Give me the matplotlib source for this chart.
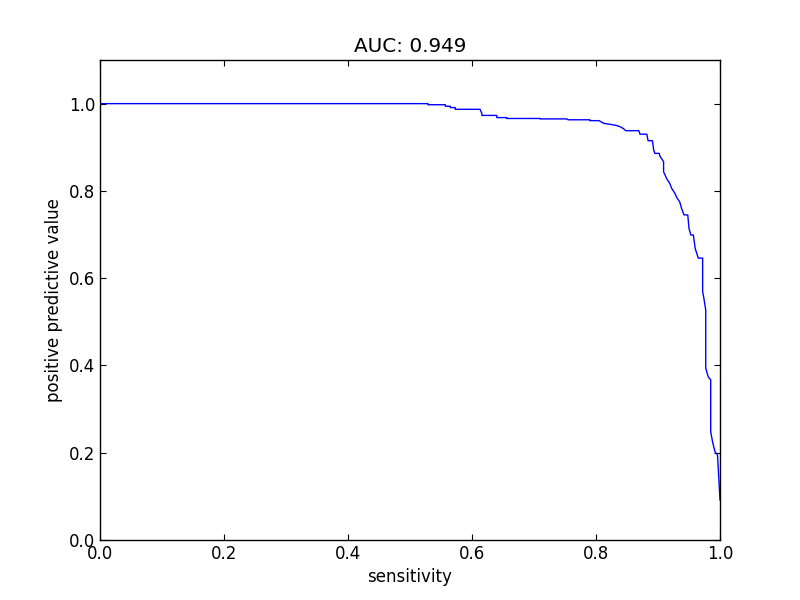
import matplotlib
matplotlib.use("Agg")
import matplotlib.pyplot as plt

# precision-recall curve vertices
sensitivity = [0.0, 0.529, 0.529, 0.557, 0.557, 0.565, 0.565, 0.573, 0.573, 0.613,
               0.616, 0.616, 0.640, 0.640, 0.656, 0.656, 0.710, 0.710, 0.753, 0.755,
               0.790, 0.790, 0.805, 0.812, 0.825, 0.833, 0.839, 0.844, 0.848, 0.869,
               0.871, 0.882, 0.884, 0.891, 0.893, 0.895, 0.902, 0.903, 0.909, 0.909,
               0.914, 0.919, 0.922, 0.927, 0.931, 0.935, 0.938, 0.942, 0.948, 0.950,
               0.953, 0.957, 0.960, 0.965, 0.972, 0.972, 0.974, 0.977, 0.977, 0.981,
               0.985, 0.985, 0.988, 0.992, 0.996, 1.0]
ppv = [1.0, 1.0, 0.9975, 0.9975, 0.994, 0.994, 0.991, 0.991, 0.987, 0.987,
       0.977, 0.973, 0.973, 0.968, 0.968, 0.966, 0.966, 0.965, 0.965, 0.963,
       0.963, 0.961, 0.961, 0.955, 0.952, 0.950, 0.947, 0.943, 0.938, 0.938,
       0.930, 0.930, 0.915, 0.915, 0.894, 0.886, 0.886, 0.880, 0.867, 0.844,
       0.828, 0.817, 0.806, 0.795, 0.783, 0.775, 0.760, 0.745, 0.745, 0.714,
       0.699, 0.699, 0.668, 0.646, 0.646, 0.569, 0.554, 0.527, 0.394, 0.374,
       0.367, 0.248, 0.225, 0.202, 0.195, 0.092]
auc = 0.949

plt.rcParams['font.family'] = 'DejaVu Sans'
plt.rcParams['font.size'] = 12
plt.rcParams['xtick.direction'] = 'in'
plt.rcParams['ytick.direction'] = 'in'
plt.rcParams['xtick.top'] = True
plt.rcParams['ytick.right'] = True
plt.rcParams['xtick.major.size'] = 4
plt.rcParams['ytick.major.size'] = 4

fig = plt.figure(figsize=(8, 6), dpi=100, facecolor='white')
ax = fig.add_axes([0.125, 0.1, 0.775, 0.8])
ax.plot(sensitivity, ppv, color='b', linewidth=1)
ax.set_xlim(0, 1)
ax.set_ylim(0, 1.1)
ax.set_yticks([0.0, 0.2, 0.4, 0.6, 0.8, 1.0])
ax.set_xlabel('sensitivity')
ax.set_ylabel('positive predictive value')
ax.set_title('AUC: %.3f' % auc)
for s in ax.spines.values():
    s.set_linewidth(1)

fig.savefig('out.png', dpi=100, facecolor='white')
